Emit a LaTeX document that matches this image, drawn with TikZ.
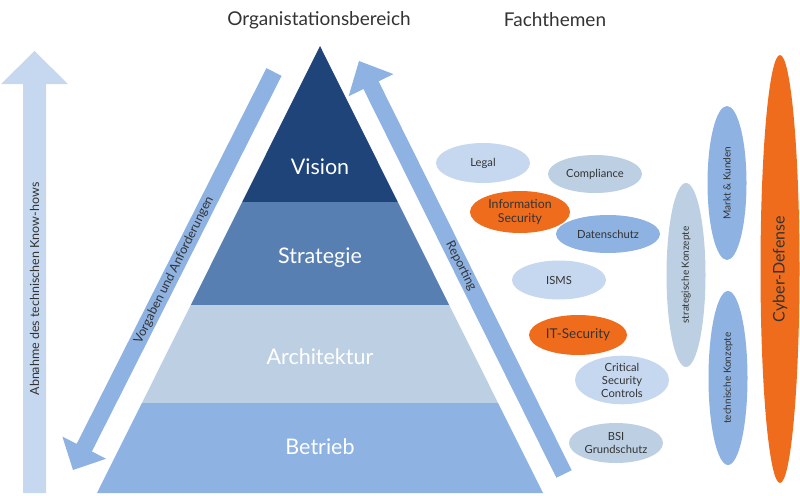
\documentclass[tikz,border=0pt]{standalone}
\usepackage{fontspec}
\setmainfont{Lato}
\usetikzlibrary{calc,shapes.geometric}
\definecolor{navy}{HTML}{1F4479}
\definecolor{midblue}{HTML}{587FB2}
\definecolor{paleblue}{HTML}{BDD0E3}
\definecolor{skyblue}{HTML}{8EB2E2}
\definecolor{lightblue}{HTML}{C6D8EF}
\definecolor{orng}{HTML}{EE6C1B}
\definecolor{txt}{HTML}{333333}
% #1 colour, #2 tail, #3 tip, #4 half shaft, #5 half head, #6 head length
\newcommand{\blkarrow}[6]{%
  \coordinate (hb) at ($(#3)!#6!(#2)$);
  \fill[#1] ($(#2)!#4!90:(#3)$) -- ($(hb)!#4!90:(#3)$) -- ($(hb)!#5!90:(#3)$) -- (#3)
    -- ($(hb)!#5!-90:(#3)$) -- ($(hb)!#4!-90:(#3)$) -- ($(#2)!#4!-90:(#3)$) -- cycle;}
\tikzset{
  title/.style={font=\fontsize{19}{22}\selectfont, text=txt},
  layer/.style={font=\fontsize{21.5}{25}\selectfont, text=white},
  arrowtext/.style={font=\fontsize{12.5}{15}\selectfont, text=txt},
  topic/.style={ellipse, inner sep=0pt, align=center, text=txt,
    font=\fontsize{11.2}{13}\selectfont},
  vtopic/.style={topic, rotate=90, minimum height=39pt, font=\fontsize{10}{12}\selectfont},
}
\begin{document}
\begin{tikzpicture}[x=1pt,y=-1pt]
\useasboundingbox (0,0) rectangle (800,495);
% titles
\node[title] (orgtitle) at (319,20) {Organistationsbereich};
\node[title] (fachtitle) at (555,20) {Fachthemen};
% left arrow
\coordinate (la0) at (34.5,493);
\coordinate (la1) at (34.5,51);
\blkarrow{lightblue}{la0}{la1}{11.5pt}{33.5pt}{33pt}
\node[arrowtext, rotate=90] (knowhow) at (34.5,289) {Abnahme des technischen Know-hows};
% Vorgaben arrow
\coordinate (va0) at (274,72);
\coordinate (va1) at (73,470);
\blkarrow{skyblue}{va0}{va1}{8.5pt}{24.5pt}{25pt}
\node[arrowtext, rotate=63.5] (vorgaben) at (174,270) {Vorgaben und Anforderungen};
% Reporting arrow
\coordinate (ra0) at (564,474);
\coordinate (ra1) at (359,61);
\blkarrow{skyblue}{ra0}{ra1}{8.5pt}{25pt}{27pt}
\node[arrowtext, rotate=-63.5] (reporting) at (461,266) {Reporting};
% pyramid
\begin{scope}
\clip (320,46) -- (97,493) -- (543,493) -- cycle;
\fill[navy] (0,40) rectangle (800,202);
\fill[midblue] (0,202) rectangle (800,305);
\fill[paleblue] (0,305) rectangle (800,403);
\fill[skyblue] (0,403) rectangle (800,495);
\end{scope}
\node[layer] (vision) at (320,167) {Vision};
\node[layer] (strategie) at (320,258) {Strategie};
\node[layer] (architektur) at (320,357) {Architektur};
\node[layer] (betrieb) at (320,447) {Betrieb};
% topics
\node[topic, fill=lightblue, minimum width=94pt, minimum height=40pt] (legal) at (483,163) {Legal};
\node[topic, fill=paleblue, minimum width=94pt, minimum height=38pt] (compl) at (595,174) {Compliance};
\node[topic, fill=orng, minimum width=100pt, minimum height=42pt, font=\fontsize{12.3}{14}\selectfont] (infosec) at (520,212) {Information\\Security};
\node[topic, fill=skyblue, minimum width=104pt, minimum height=38pt] (daten) at (608,234) {Datenschutz};
\node[topic, fill=lightblue, minimum width=94pt, minimum height=39pt] (isms) at (559,280) {ISMS};
\node[topic, fill=orng, minimum width=98pt, minimum height=40pt, font=\fontsize{13.5}{16}\selectfont] (itsec) at (578,335) {IT-Security};
\node[topic, fill=lightblue, minimum width=94pt, minimum height=46pt] (csc) at (622,380) {Critical\\Security\\Controls};
\node[topic, fill=paleblue, minimum width=94pt, minimum height=40pt] (bsi) at (616,443) {BSI\\Grundschutz};
\node[vtopic, fill=paleblue, minimum width=184pt] (strat) at (686,275) {strategische Konzepte};
\node[vtopic, fill=skyblue, minimum width=154pt] (markt) at (727,183) {Markt \& Kunden};
\node[vtopic, fill=skyblue, minimum width=174pt] (techn) at (728,378) {technische Konzepte};
\node[vtopic, fill=orng, minimum width=428pt, font=\fontsize{16}{19}\selectfont] (cyber) at (780,269) {Cyber-Defense};
\end{tikzpicture}
\end{document}
